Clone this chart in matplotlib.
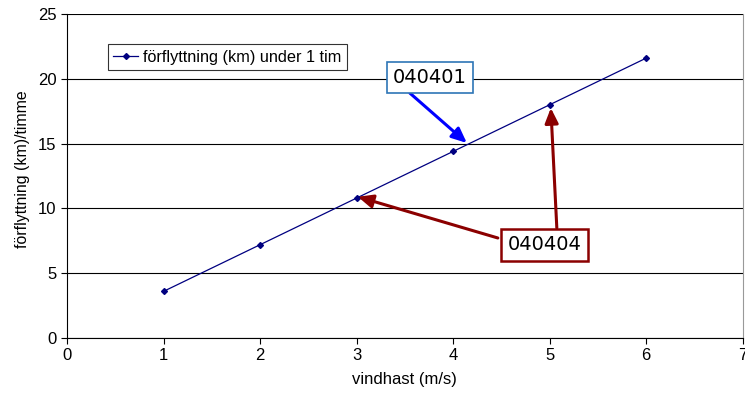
import matplotlib.pyplot as plt

plt.rcParams['font.family'] = ['Liberation Sans', 'DejaVu Sans']

# vindhastighet (m/s) och förflyttning per timme (km)
vindhast = [1, 2, 3, 4, 5, 6]
forflyttning = [3.6, 7.2, 10.8, 14.4, 18.0, 21.6]

fig = plt.figure(figsize=(7.45, 4.01), dpi=100)
ax = fig.add_axes([0.0899, 0.157, 0.9071, 0.808])

ax.plot(vindhast, forflyttning, color='#000080', lw=0.9, marker='D', ms=3,
        label='förflyttning (km) under 1 tim')

ax.set_xlim(0, 7)
ax.set_ylim(0, 25)
ax.set_xticks(range(0, 8))
ax.set_yticks(range(0, 26, 5))
ax.yaxis.grid(True, color='black', lw=0.8)
ax.set_axisbelow(True)
ax.spines['top'].set_visible(False)
ax.spines['right'].set_color('#999999')
ax.tick_params(direction='out', length=4, labelsize=12, width=0.8)
ax.set_xlabel('vindhast (m/s)', fontsize=12, labelpad=6)
ax.set_ylabel('förflyttning (km)/timme', fontsize=11.4)
ax.yaxis.set_label_coords(-0.055, 0.52)

leg = ax.legend(loc='upper left', bbox_to_anchor=(0.061, 0.906), fontsize=11.7,
                frameon=True, fancybox=False, handlelength=1.5,
                borderpad=0.32, handletextpad=0.35, borderaxespad=0)
leg.get_frame().set_edgecolor('black')
leg.get_frame().set_linewidth(0.8)

arrow = dict(arrowstyle='-|>,head_length=0.9,head_width=0.4', lw=2.2,
             shrinkA=0, shrinkB=0)

# blå markering
ax.annotate('', xy=(4.142, 15.05), xytext=(3.552, 18.9),
            arrowprops=dict(arrow, color='blue'))
ax.text(3.76, 20.1, '040401', fontsize=14, family='DejaVu Sans',
        ha='center', va='center', zorder=5,
        bbox=dict(boxstyle='square,pad=0.3', fc='white', ec='#2E75B6', lw=1.2))

# röd markering med två pilar
for start, tip in [((4.463, 7.72), (3.013, 10.9)), ((5.074, 8.49), (5.012, 17.75))]:
    ax.annotate('', xy=tip, xytext=start,
                arrowprops=dict(arrow, color='#8B0000'))
ax.text(4.95, 7.18, '040404', fontsize=14, family='DejaVu Sans',
        ha='center', va='center', zorder=5,
        bbox=dict(boxstyle='square,pad=0.34', fc='white', ec='#8B0000', lw=1.8))

fig.savefig('out.png', dpi=100)
